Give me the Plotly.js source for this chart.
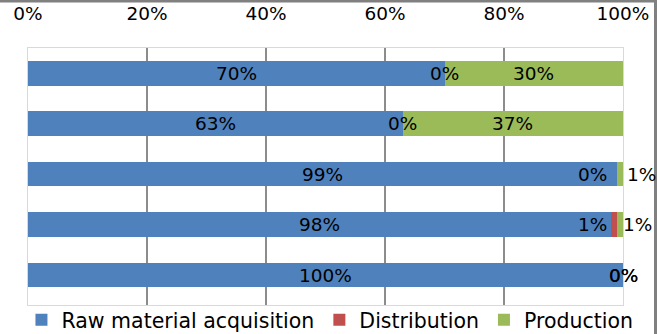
<!DOCTYPE html>
<html>
<head>
<meta charset="utf-8">
<script src="https://cdn.plot.ly/plotly-3.0.1.min.js"></script>
<style>
html,body{margin:0;padding:0;background:#fff;}
#chart{width:665px;height:334px;}
</style>
</head>
<body>
<div id="chart"></div>
<script>
// Data (top bar first)
var categories = [0, 1, 2, 3, 4];
var seriesNames = ['Raw material acquisition', 'Distribution', 'Production'];
var rawMaterial = [70, 63, 99, 98, 100];
var distribution = [0, 0, 0, 1, 0];
var production = [30, 37, 1, 1, 0];
var tickVals = [0, 20, 40, 60, 80, 100];
var tickText = ['0%', '20%', '40%', '60%', '80%', '100%'];

// Styles
var colors = ['#4F81BD', '#C0504D', '#9BBB59'];
var labelShift = [
  [0, 0, 0, 0, 0],
  [0, 0, -25, -22, 0],
  [0, 0, 21, 17, 0]
];
var FONT = 'DejaVu Sans, Verdana, sans-serif';

var series = [rawMaterial, distribution, production];
var traces = series.map(function (vals, i) {
  return {
    type: 'bar',
    orientation: 'h',
    name: seriesNames[i],
    x: vals,
    y: categories,
    width: 0.49,
    marker: {color: colors[i], line: {width: 0}},
    hoverinfo: 'none'
  };
});
// extra axis for interior gridlines only
traces.push({
  type: 'scatter', x: [0], y: [0], xaxis: 'x2', yaxis: 'y',
  mode: 'none', showlegend: false, hoverinfo: 'none'
});

var annotations = [];
categories.forEach(function (c, j) {
  var start = 0;
  series.forEach(function (vals, i) {
    annotations.push({
      x: start + vals[j] / 2, y: c, xref: 'x', yref: 'y',
      text: vals[j] + '%', showarrow: false,
      xshift: labelShift[i][j],
      font: {family: FONT, size: 18.5, color: '#000'}
    });
    start += vals[j];
  });
});

var px = function (p) { return (p - 28) / 595; };
var layout = {
  width: 665, height: 334,
  margin: {l: 28, r: 42, t: 48, b: 29, pad: 0, autoexpand: false},
  paper_bgcolor: '#fff', plot_bgcolor: '#fff',
  barmode: 'stack',
  showlegend: true,
  legend: {
    orientation: 'h', x: -0.011, xanchor: 'left', y: -15 / 257, yanchor: 'middle',
    traceorder: 'normal',
    font: {family: FONT, size: 20.5, color: '#000'},
    bgcolor: 'rgba(0,0,0,0)', borderwidth: 0, itemclick: false
  },
  xaxis: {
    side: 'top', range: [0, 100], tickvals: tickVals, ticktext: tickText,
    ticks: '', ticklabelstandoff: 20, showgrid: false, zeroline: false,
    showline: true, mirror: true, linecolor: '#d9d9d9', linewidth: 1,
    tickfont: {family: FONT, size: 18.5, color: '#000'}, fixedrange: true
  },
  xaxis2: {
    overlaying: 'x', matches: 'x', range: [0, 100], tickvals: [20, 40, 60, 80],
    showticklabels: false, ticks: '', showgrid: true, gridcolor: '#8c8c8c', gridwidth: 1.5,
    zeroline: false, showline: false, layer: 'below traces'
  },
  yaxis: {
    range: [4.594, -0.5], showticklabels: false, ticks: '', showgrid: false,
    zeroline: false, showline: true, mirror: true, linecolor: '#d9d9d9', linewidth: 1,
    fixedrange: true
  },
  annotations: annotations,
  shapes: [
    // top frame line (pixel y ~1)
    {type: 'line', xref: 'paper', yref: 'paper', x0: px(0), x1: px(657),
     y0: 1 + 47 / 257, y1: 1 + 47 / 257, line: {color: '#808080', width: 3}, layer: 'above'},
    // right frame line (pixel x ~655)
    {type: 'line', xref: 'paper', yref: 'paper', x0: px(655.5), x1: px(655.5),
     y0: -29 / 257, y1: 1 + 48 / 257, line: {color: '#808080', width: 3}, layer: 'above'}
  ]
};

Plotly.newPlot('chart', traces, layout, {staticPlot: true, displayModeBar: false});
</script>
</body>
</html>
